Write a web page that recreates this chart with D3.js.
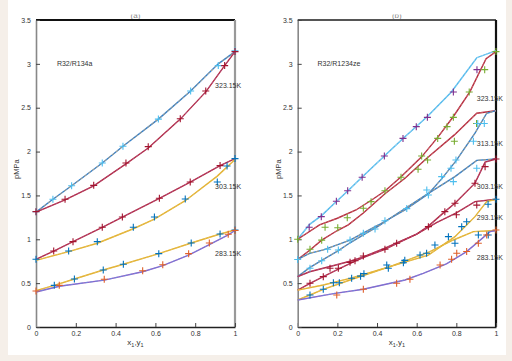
<!DOCTYPE html>
<html><head><meta charset="utf-8">
<script src="https://cdn.jsdelivr.net/npm/d3@7"></script>
<style>body{margin:0;background:#f5efe9;} svg{display:block}</style>
</head><body>
<svg id="c" width="512" height="361"></svg>
<script>
// ---------- data ----------
const xTicks = [0, 0.2, 0.4, 0.6, 0.8, 1];
const xTickLabels = ["0", "0.2", "0.4", "0.6", "0.8", "1"];
const yTicks = [0, 0.5, 1, 1.5, 2, 2.5, 3, 3.5];
const yTickLabels = ["0", "0.5", "1", "1.5", "2", "2.5", "3", "3.5"];
const tempsA = ["323.15K", "303.15K", "283.15K"];
const tempsB = ["323.15K", "313.15K", "303.15K", "293.15K", "283.15K"];

// Panel (a) R32/R134a : [x1 or y1, p/MPa]
const a323Bub = [[0,1.31],[0.085,1.456],[0.179,1.61],[0.333,1.87],[0.437,2.06],[0.615,2.37],[0.777,2.69],[0.916,3.0],[1,3.14]];
const a323BubMk = [[0,1.315],[0.085,1.456],[0.179,1.61],[0.333,1.87],[0.437,2.06],[0.615,2.37],[0.777,2.69],[0.916,2.98],[1,3.15]];
const a323Dew = [[0,1.31],[0.146,1.45],[0.29,1.61],[0.452,1.86],[0.564,2.04],[0.725,2.37],[0.853,2.68],[0.948,2.98],[1,3.14]];
const a323DewMk = [[0,1.315],[0.146,1.456],[0.29,1.615],[0.452,1.87],[0.564,2.056],[0.725,2.375],[0.853,2.69],[0.948,2.98],[1,3.14]];
const a303Bub = [[0,0.772],[0.089,0.866],[0.186,0.973],[0.333,1.137],[0.434,1.254],[0.62,1.467],[0.775,1.653],[0.925,1.84],[1,1.92]];
const a303BubMk = [[0.089,0.866],[0.186,0.973],[0.333,1.137],[0.434,1.254],[0.62,1.467],[0.775,1.653],[0.925,1.84]];
const a303Dew = [[0,0.76],[0.164,0.86],[0.308,0.955],[0.489,1.12],[0.595,1.23],[0.75,1.44],[0.911,1.72],[1,1.91]];
const a303DewMk = [[0,0.772],[0.164,0.866],[0.308,0.973],[0.489,1.137],[0.595,1.254],[0.75,1.46],[0.911,1.653],[0.96,1.835],[1,1.92]];
const a283Bub = [[0,0.414],[0.092,0.475],[0.193,0.547],[0.338,0.65],[0.439,0.715],[0.617,0.836],[0.78,0.958],[0.925,1.06],[1,1.106]];
const a283BubMk = [[0.092,0.475],[0.193,0.547],[0.338,0.65],[0.439,0.715],[0.617,0.836],[0.78,0.958],[0.925,1.06],[1,1.106]];
const a283Dew = [[0,0.399],[0.117,0.465],[0.343,0.535],[0.536,0.63],[0.637,0.7],[0.767,0.82],[0.871,0.94],[0.966,1.05],[1,1.1]];
const a283DewMk = [[0,0.41],[0.117,0.475],[0.343,0.544],[0.536,0.642],[0.637,0.71],[0.767,0.836],[0.871,0.958],[0.966,1.057],[1,1.1]];

// Panel (b) R32/R1234ze
const b323Bub = [[0,1.0],[0.06,1.17],[0.12,1.27],[0.195,1.43],[0.255,1.555],[0.325,1.71],[0.437,1.95],[0.531,2.15],[0.654,2.4],[0.775,2.68],[0.903,3.07],[1,3.15]];
const b323BubMk = [[0.058,1.137],[0.119,1.258],[0.195,1.433],[0.252,1.554],[0.325,1.707],[0.437,1.95],[0.531,2.15],[0.598,2.284],[0.654,2.39],[0.785,2.68],[0.904,2.934]];
const b323Dew = [[0,1.0],[0.11,1.165],[0.2,1.24],[0.294,1.334],[0.373,1.448],[0.44,1.55],[0.52,1.71],[0.625,1.94],[0.709,2.17],[0.785,2.4],[0.868,2.68],[0.95,3.06],[1,3.14]];
const b323DewMk = [[0,1.0],[0.138,1.137],[0.25,1.246],[0.37,1.429],[0.44,1.554],[0.521,1.707],[0.625,1.95],[0.706,2.15],[0.753,2.284],[0.785,2.39],[0.865,2.68],[0.943,2.934],[1,3.14]];
const b313Bub = [[0,0.77],[0.062,0.878],[0.121,0.99],[0.2,1.1],[0.255,1.165],[0.331,1.3],[0.44,1.52],[0.541,1.695],[0.651,1.924],[0.79,2.19],[0.903,2.437],[1,2.466]];
const b313BubMk = [[0.062,0.886],[0.121,0.99],[0.202,1.132],[0.331,1.353],[0.607,1.798],[0.655,1.904],[0.79,2.117],[0.902,2.32]];
const b313Dew = [[0,0.77],[0.06,0.84],[0.13,0.88],[0.264,0.99],[0.407,1.163],[0.541,1.334],[0.66,1.52],[0.73,1.7],[0.8,1.9],[0.894,2.21],[0.953,2.437],[1,2.466]];
const b313DewMk = [[0,0.77],[0.151,0.886],[0.264,0.992],[0.39,1.117],[0.44,1.212],[0.651,1.562],[0.726,1.714],[0.773,1.81],[0.798,1.904],[0.886,2.117],[0.908,2.32],[0.941,2.32]];
const b303Bub = [[0,0.574],[0.062,0.68],[0.121,0.76],[0.205,0.87],[0.264,0.96],[0.331,1.05],[0.407,1.15],[0.491,1.277],[0.659,1.524],[0.793,1.714],[0.903,1.9],[1,1.915]];
const b303BubMk = [[0.062,0.669],[0.121,0.756],[0.205,0.878],[0.331,1.068],[0.55,1.35],[0.659,1.505],[0.785,1.657],[0.903,1.81]];
const b303Dew = [[0,0.574],[0.06,0.63],[0.163,0.69],[0.264,0.75],[0.331,0.8],[0.44,0.9],[0.499,0.96],[0.6,1.06],[0.659,1.15],[0.742,1.315],[0.793,1.41],[0.894,1.64],[0.945,1.88],[1,1.915]];
const b303DewMk = [[0.163,0.669],[0.264,0.737],[0.331,0.81],[0.44,0.886],[0.659,1.144],[0.742,1.315],[0.793,1.41],[0.894,1.638],[0.945,1.828],[1,1.915]];
const b293Bub = [[0,0.42],[0.062,0.498],[0.129,0.574],[0.205,0.66],[0.289,0.75],[0.34,0.8],[0.44,0.886],[0.499,0.95],[0.6,1.06],[0.7,1.19],[0.8,1.3],[0.894,1.43],[1,1.456]];
const b293BubMk = [[0.062,0.498],[0.129,0.574],[0.205,0.669],[0.289,0.756],[0.499,0.954],[0.8,1.28],[0.903,1.39]];
const b293Dew = [[0,0.42],[0.129,0.479],[0.264,0.555],[0.465,0.688],[0.659,0.82],[0.793,1.03],[0.894,1.258],[0.953,1.429],[1,1.456]];
const b293DewMk = [[0.18,0.505],[0.272,0.555],[0.334,0.608],[0.449,0.707],[0.54,0.76],[0.65,0.84],[0.692,0.935],[0.76,1.03],[0.827,1.144],[0.852,1.2],[0.96,1.4],[1,1.456]];
const b283Bub = [[0,0.31],[0.062,0.365],[0.129,0.43],[0.264,0.536],[0.465,0.688],[0.667,0.859],[0.785,0.992],[0.886,1.087],[1,1.1]];
const b283BubMk = [[0.062,0.365],[0.129,0.43],[0.21,0.505],[0.317,0.58],[0.457,0.669],[0.533,0.733],[0.617,0.821],[0.793,0.954],[0.911,1.049],[0.961,1.049]];
const b283Dew = [[0,0.308],[0.188,0.384],[0.331,0.43],[0.541,0.536],[0.633,0.612],[0.75,0.72],[0.852,0.859],[0.97,1.087],[1,1.1]];
const b283DewMk = [[0.197,0.365],[0.331,0.43],[0.499,0.498],[0.566,0.544],[0.718,0.707],[0.776,0.772],[0.802,0.84],[0.852,0.86],[0.911,0.954],[0.953,1.049],[1,1.106]];

// ---------- styling ----------
const C = {blue:"#2f7fcf", tan:"#d6a766", red:"#b3283d", pink:"#b0528f", yellow:"#e2b12c", gold:"#e8c060",
  purple:"#8a62c8", lblue:"#4db8ec", lblue2:"#9ed4f2", mBlue:"#0072bd", mLBlue:"#4dbeee", mRed:"#a2142f",
  mOrange:"#e0602a", mGreen:"#77ac30", mPurple:"#7e2f8e"};
const FONT = "'Liberation Sans', Arial, sans-serif";

const svg = d3.select("#c");
svg.append("rect").attr("width",512).attr("height",361).attr("fill","#f5efe9");
svg.append("rect").attr("x",8).attr("y",0).attr("width",498).attr("height",355).attr("fill","#ffffff");

function panel(cfg){
  const x = d3.scaleLinear().domain([0,1]).range([cfg.left, cfg.right]);
  const y = d3.scaleLinear().domain([0,3.5]).range([327, 20]);
  const g = svg.append("g");
  const line = d3.line().x(d=>x(d[0])).y(d=>y(d[1]));

  // frame top/right
  g.append("line").attr("x1",x(0)).attr("x2",x(1)).attr("y1",y(3.5)).attr("y2",y(3.5))
    .attr("stroke",cfg.topColor).attr("stroke-width",2);
  g.append("line").attr("x1",x(1)).attr("x2",x(1)).attr("y1",y(3.5)).attr("y2",y(0))
    .attr("stroke",cfg.rightColor).attr("stroke-width",2.2);

  // axes
  const ax = g.append("g").attr("transform",`translate(0,${y(0)})`)
    .call(d3.axisBottom(x).tickValues(xTicks).tickFormat((d,i)=>xTickLabels[i]).tickSizeInner(-4).tickSizeOuter(0).tickPadding(4));
  const ay = g.append("g").attr("transform",`translate(${x(0)},0)`)
    .call(d3.axisLeft(y).tickValues(yTicks).tickFormat((d,i)=>yTickLabels[i]).tickSizeInner(-4).tickSizeOuter(0).tickPadding(5));
  ax.select(".domain").attr("stroke","#222").attr("stroke-width",1.4);
  ay.select(".domain").attr("stroke","#888").attr("stroke-width",1.6);
  [ax,ay].forEach(a=>{
    a.selectAll(".tick line").attr("stroke","#444");
    a.selectAll("text").attr("font-family",FONT).attr("font-size",7).attr("fill","#333");
  });

  // lines
  cfg.series.forEach(s=>{
    g.append("path").datum(s.line).attr("d",line).attr("fill","none")
      .attr("stroke",s.c1).attr("stroke-width",1.4);
    g.append("path").datum(s.line).attr("d",line).attr("fill","none")
      .attr("stroke",s.c2).attr("stroke-width",0.9).attr("stroke-dasharray","3,2").attr("opacity",0.85);
  });
  // markers
  cfg.series.forEach(s=>{
    g.append("g").selectAll("path").data(s.mk).join("path")
      .attr("d",d=>`M${x(d[0])-3.5},${y(d[1])}h7M${x(d[0])},${y(d[1])-3.5}v7`)
      .attr("stroke",s.mc).attr("stroke-width",1.1).attr("fill","none");
  });

  // labels
  g.append("text").attr("x",x(cfg.nameAt[0])).attr("y",y(cfg.nameAt[1])).attr("dy","0.35em")
    .attr("font-family",FONT).attr("font-size",7).attr("fill","#333").text(cfg.name);
  cfg.temps.forEach((t,i)=>{
    g.append("text").attr("x",x(cfg.tempAt[i][0])).attr("y",y(cfg.tempAt[i][1])).attr("dy","0.35em")
      .attr("font-family",FONT).attr("font-size",7).attr("fill","#333").text(t);
  });
  // axis titles
  g.append("text").attr("transform",`translate(${cfg.left-17},${y(1.8)}) rotate(-90)`)
    .attr("text-anchor","middle").attr("font-family",FONT).attr("font-size",7.5).attr("fill","#333").text("pMPa");
  const xl = g.append("text").attr("x",(x(0)+x(1))/2).attr("y",345).attr("text-anchor","middle")
    .attr("font-family",FONT).attr("font-size",8).attr("fill","#333");
  xl.append("tspan").text("x");
  xl.append("tspan").attr("font-size",5.5).attr("dy",2).text("1");
  xl.append("tspan").attr("dy",-2).text(",y");
  xl.append("tspan").attr("font-size",5.5).attr("dy",2).text("1");
  // clipped panel title
  const cid = "clip"+cfg.id;
  svg.append("clipPath").attr("id",cid).append("rect").attr("x",cfg.left).attr("y",14.5).attr("width",cfg.right-cfg.left).attr("height",4.5);
  g.append("text").attr("clip-path",`url(#${cid})`).attr("x",(x(0)+x(1))/2).attr("y",18).attr("text-anchor","middle")
    .attr("font-family",FONT).attr("font-size",8).attr("fill","#888").text(cfg.title);
}

panel({id:"a", left:36, right:235, title:"(a)", name:"R32/R134a", nameAt:[0.105,3.0],
  topColor:"#111", rightColor:"#999",
  temps:tempsA, tempAt:[[0.9,2.75],[0.9,1.6],[0.9,0.84]],
  series:[
    {line:a323Bub, c1:C.blue, c2:C.tan, mk:a323BubMk, mc:C.mLBlue},
    {line:a323Dew, c1:C.red, c2:C.pink, mk:a323DewMk, mc:C.mRed},
    {line:a303Bub, c1:C.red, c2:C.pink, mk:a303BubMk, mc:C.mRed},
    {line:a303Dew, c1:C.yellow, c2:C.gold, mk:a303DewMk, mc:C.mBlue},
    {line:a283Bub, c1:C.yellow, c2:C.gold, mk:a283BubMk, mc:C.mBlue},
    {line:a283Dew, c1:C.purple, c2:"#6f8fe0", mk:a283DewMk, mc:C.mOrange}
  ]});

panel({id:"b", left:297.7, right:496, title:"(b)", name:"R32/R1234ze", nameAt:[0.1,3.0],
  topColor:"#555", rightColor:"#111",
  temps:tempsB, tempAt:[[0.903,2.6],[0.903,2.095],[0.903,1.6],[0.903,1.25],[0.903,0.795]],
  series:[
    {line:b323Bub, c1:C.lblue, c2:C.lblue2, mk:b323BubMk, mc:C.mPurple},
    {line:b323Dew, c1:C.red, c2:"#d07070", mk:b323DewMk, mc:C.mGreen},
    {line:b313Bub, c1:C.red, c2:"#d07070", mk:b313BubMk, mc:C.mGreen},
    {line:b313Dew, c1:C.blue, c2:C.tan, mk:b313DewMk, mc:C.mLBlue},
    {line:b303Bub, c1:C.blue, c2:C.tan, mk:b303BubMk, mc:C.mLBlue},
    {line:b303Dew, c1:C.red, c2:C.pink, mk:b303DewMk, mc:C.mRed},
    {line:b293Bub, c1:C.red, c2:C.pink, mk:b293BubMk, mc:C.mRed},
    {line:b293Dew, c1:C.yellow, c2:C.gold, mk:b293DewMk, mc:C.mBlue},
    {line:b283Bub, c1:C.yellow, c2:C.gold, mk:b283BubMk, mc:C.mBlue},
    {line:b283Dew, c1:C.purple, c2:"#6f8fe0", mk:b283DewMk, mc:C.mOrange}
  ]});
</script>
</body></html>
